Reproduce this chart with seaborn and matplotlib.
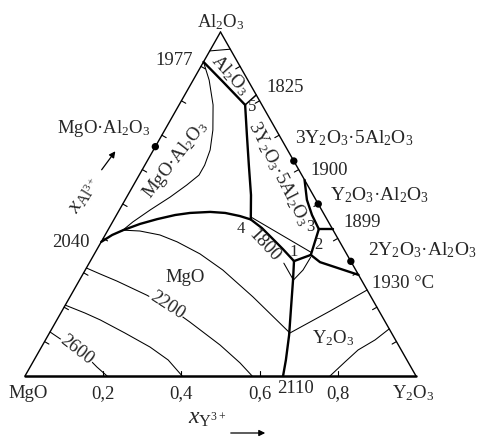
import numpy as np
import pandas as pd
import matplotlib
matplotlib.use("Agg")
import matplotlib.pyplot as plt
import seaborn as sns

# ---------------- data: cation fractions (x_Y, x_Al) ----------------
# thick field boundaries
al_sp_xY = [0.0, 0.079, 0.169]
al_sp_xAl = [0.913, 0.855, 0.788]
al_yag_xY = [0.169, 0.183]
al_yag_xAl = [0.788, 0.817]
yag_sp_xY = [0.169, 0.217, 0.266, 0.315, 0.350]
yag_sp_xAl = [0.788, 0.701, 0.613, 0.526, 0.455]
mgo_bd_xY = [0.0, 0.018, 0.039, 0.073, 0.110, 0.150, 0.185, 0.235, 0.275,
             0.317, 0.350, 0.391, 0.431, 0.475, 0.521]
mgo_bd_xAl = [0.390, 0.410, 0.424, 0.442, 0.456, 0.468, 0.474, 0.477, 0.474,
              0.465, 0.455, 0.430, 0.401, 0.369, 0.334]
mgo_y_xY = [0.521, 0.546, 0.584, 0.616, 0.644, 0.660]
mgo_y_xAl = [0.334, 0.279, 0.192, 0.119, 0.0465, 0.0]
e12_xY = [0.521, 0.555]
e12_xAl = [0.334, 0.352]
e23_xY = [0.555, 0.538]
e23_xAl = [0.352, 0.427]
e3_1899_xY = [0.538, 0.573]
e3_1899_xAl = [0.427, 0.427]
e3_1900_xY = [0.538, 0.500, 0.465, 0.430]
e3_1900_xAl = [0.427, 0.468, 0.512, 0.570]
e2_1930_xY = [0.555, 0.589, 0.706]
e2_1930_xAl = [0.352, 0.331, 0.294]

# thin isotherms / lines
iso_al_xY = [0.0, 0.05]
iso_al_xAl = [0.945, 0.95]
iso_sp_xY = [0.0, 0.041, 0.087, 0.123, 0.145, 0.153, 0.153, 0.136, 0.111,
             0.079, 0.052, 0.036]
iso_sp_xAl = [0.913, 0.860, 0.788, 0.715, 0.657, 0.613, 0.584, 0.555, 0.520,
              0.483, 0.448, 0.420]
iso_up_xY = [0.039, 0.083, 0.140, 0.194, 0.270, 0.352, 0.468, 0.615, 0.686, 0.75]
iso_up_xAl = [0.424, 0.4215, 0.410, 0.390, 0.355, 0.308, 0.230, 0.125, 0.189, 0.25]
iso2200_xY = [0.0, 0.044, 0.097, 0.194, 0.272, 0.343, 0.454, 0.531, 0.581]
iso2200_xAl = [0.314, 0.2965, 0.276, 0.235, 0.198, 0.157, 0.090, 0.038, 0.0]
iso_mid_xY = [0.0, 0.062, 0.111, 0.193, 0.278, 0.343, 0.402]
iso_mid_xAl = [0.206, 0.183, 0.163, 0.125, 0.084, 0.0465, 0.0]
iso2600_xY = [0.0, 0.027, 0.089, 0.143, 0.171, 0.210]
iso2600_xAl = [0.128, 0.113, 0.0785, 0.0465, 0.026, 0.0]
iso_y_xY = [0.780, 0.798, 0.814, 0.843, 0.863]
iso_y_xAl = [0.0, 0.041, 0.0756, 0.105, 0.137]
tie42_xY = [0.347, 0.551]
tie42_xAl = [0.462, 0.360]
vee_xY = [0.498, 0.547, 0.557, 0.558]
vee_xAl = [0.328, 0.279, 0.308, 0.345]

# compounds on the binary edges
comp_xY = [0.0, 0.375, 0.5, 2 / 3]
comp_xAl = [2 / 3, 0.625, 0.5, 1 / 3]

base_ticks = [0.2, 0.4, 0.6, 0.8]
side_ticks = [0.1, 0.2, 0.3, 0.4, 0.5, 0.6, 0.7, 0.8, 0.9]
base_labels = ["0,2", "0,4", "0,6", "0,8"]

thick = [(al_sp_xY, al_sp_xAl), (yag_sp_xY, yag_sp_xAl), (mgo_bd_xY, mgo_bd_xAl),
         (mgo_y_xY, mgo_y_xAl), (e12_xY, e12_xAl), (e23_xY, e23_xAl),
         (e3_1899_xY, e3_1899_xAl), (e3_1900_xY, e3_1900_xAl),
         (e2_1930_xY, e2_1930_xAl)]
medium = [(al_yag_xY, al_yag_xAl)]
thin = [(iso_al_xY, iso_al_xAl), (iso_sp_xY, iso_sp_xAl), (iso_up_xY, iso_up_xAl),
        (iso2200_xY, iso2200_xAl), (iso_mid_xY, iso_mid_xAl),
        (iso2600_xY, iso2600_xAl), (iso_y_xY, iso_y_xAl),
        (tie42_xY, tie42_xAl), (vee_xY, vee_xAl)]

# ---------------- style ----------------
sns.set_theme(style="white")
plt.rcParams["font.family"] = ["Liberation Serif", "DejaVu Serif"]
plt.rcParams["mathtext.fontset"] = "custom"
plt.rcParams["mathtext.rm"] = "Liberation Serif"
plt.rcParams["mathtext.it"] = "Liberation Serif:italic"
plt.rcParams["mathtext.bf"] = "Liberation Serif:bold"

W, H = 482, 442
fig = plt.figure(figsize=(W / 100, H / 100), dpi=100)
ax = fig.add_axes([0, 0, 1, 1])
SX, SY = 391.0, 344.0
ax.set_xlim(-25 / SX, (W - 25) / SX)
ax.set_ylim((376 - H) / SY, 376 / SY)
ax.axis("off")


def cart(xY, xAl):
    xY = np.asarray(xY, float)
    xAl = np.asarray(xAl, float)
    return xY + xAl / 2, xAl


def P(px, py):
    return (px - 25) / SX, (376 - py) / SY


def draw(xY, xAl, lw):
    X, Y = cart(xY, xAl)
    df = pd.DataFrame({"X": X, "Y": Y})
    sns.lineplot(data=df, x="X", y="Y", sort=False, estimator=None, color="black",
                 linewidth=lw, ax=ax, solid_capstyle="round", solid_joinstyle="round")


# triangle edges
draw([0, 0.0], [0, 1], 1.0)
draw([1, 0.0], [0, 1], 1.0)
draw([0, 1], [0, 0], 1.8)

for xy, xa in thick:
    draw(xy, xa, 1.7)
for xy, xa in medium:
    draw(xy, xa, 1.1)
for xy, xa in thin:
    draw(xy, xa, 0.75)

# ticks
L = 5.0
for t in base_ticks:
    X, Y = cart(t, 0)
    ax.plot([X, X], [Y, Y + L / SY], color="black", lw=0.8)
for t in side_ticks:
    X, Y = cart(0, t)
    ax.plot([X, X + 0.870 * L / SX], [Y, Y - 0.493 * L / SY], color="black", lw=0.8)
    X, Y = cart(1 - t, t)
    ax.plot([X, X - 0.869 * L / SX], [Y, Y - 0.495 * L / SY], color="black", lw=0.8)

# compound points
cx, cy = cart(comp_xY, comp_xAl)
sns.scatterplot(x=cx, y=cy, color="black", s=28, edgecolor="none", ax=ax, zorder=5)

FS = 13.5
def T(px, py, s, ha="left", va="baseline", rot=0, fs=FS, **kw):
    x, y = P(px, py)
    ax.text(x, y, s, ha=ha, va=va, rotation=rot, fontsize=fs,
            rotation_mode="anchor", **kw)

# vertex and axis labels
T(221, 27, r"Al$_2$O$_3$", ha="center")
T(8, 398, "MgO")
T(392, 398, r"Y$_2$O$_3$")
for t, lab in zip(base_ticks, base_labels):
    X, _ = cart(t, 0)
    ax.text(X, P(0, 398)[1], lab, ha="center", va="baseline", fontsize=FS)

# invariant temperatures and compound names
T(155, 65, "1977")
T(266, 92, "1825")
T(57, 133, r"MgO·Al$_2$O$_3$")
T(295, 143, r"3Y$_2$O$_3$·5Al$_2$O$_3$", fs=14)
T(310, 175, "1900")
T(330, 200, r"Y$_2$O$_3$·Al$_2$O$_3$", fs=14)
T(343, 227, "1899")
T(368, 255, r"2Y$_2$O$_3$·Al$_2$O$_3$", fs=14)
T(372, 288, "1930 °C")
T(52, 247, "2040")
T(277, 393, "2110")

# field labels
T(165, 282, "MgO")
T(312, 343, r"Y$_2$O$_3$")
T(230, 75, r"Al$_2$O$_3$", ha="center", va="center", rot=-48)
T(176, 160, r"MgO·Al$_2$O$_3$", ha="center", va="center", rot=52)
T(279, 173, r"3Y$_2$O$_3$·5Al$_2$O$_3$", ha="center", va="center", rot=-63)

bb = dict(facecolor="white", edgecolor="none", pad=0.5)
T(167, 305, "2200", ha="center", va="center", rot=-33, bbox=bb)
T(77, 350, "2600", ha="center", va="center", rot=-38, bbox=bb)
T(264, 246, "1800", ha="center", va="center", rot=-47)

# invariant point numbers
T(241, 229, "4", ha="center", va="center", fs=12)
T(294, 252, "1", ha="center", va="center", fs=12)
T(318, 245, "2", ha="center", va="center", fs=12)
T(310, 227, "3", ha="center", va="center", fs=12)
T(252, 107, "5", ha="center", va="center", fs=12)

# composition axis labels with arrows
T(84, 195, r"$x_{\mathrm{Al}^{3+}}$", ha="center", va="center", rot=58, fs=16)
ax.annotate("", xy=P(117, 149), xytext=P(100, 172),
            arrowprops=dict(arrowstyle="-|>", color="black", lw=0.9, mutation_scale=9))
T(207, 424, r"$x_{\mathrm{Y}^{3+}}$", ha="center", fs=17)
ax.annotate("", xy=P(268, 433), xytext=P(228, 433),
            arrowprops=dict(arrowstyle="-|>", color="black", lw=0.9, mutation_scale=9))

fig.savefig("out.png", dpi=100, facecolor="white")
